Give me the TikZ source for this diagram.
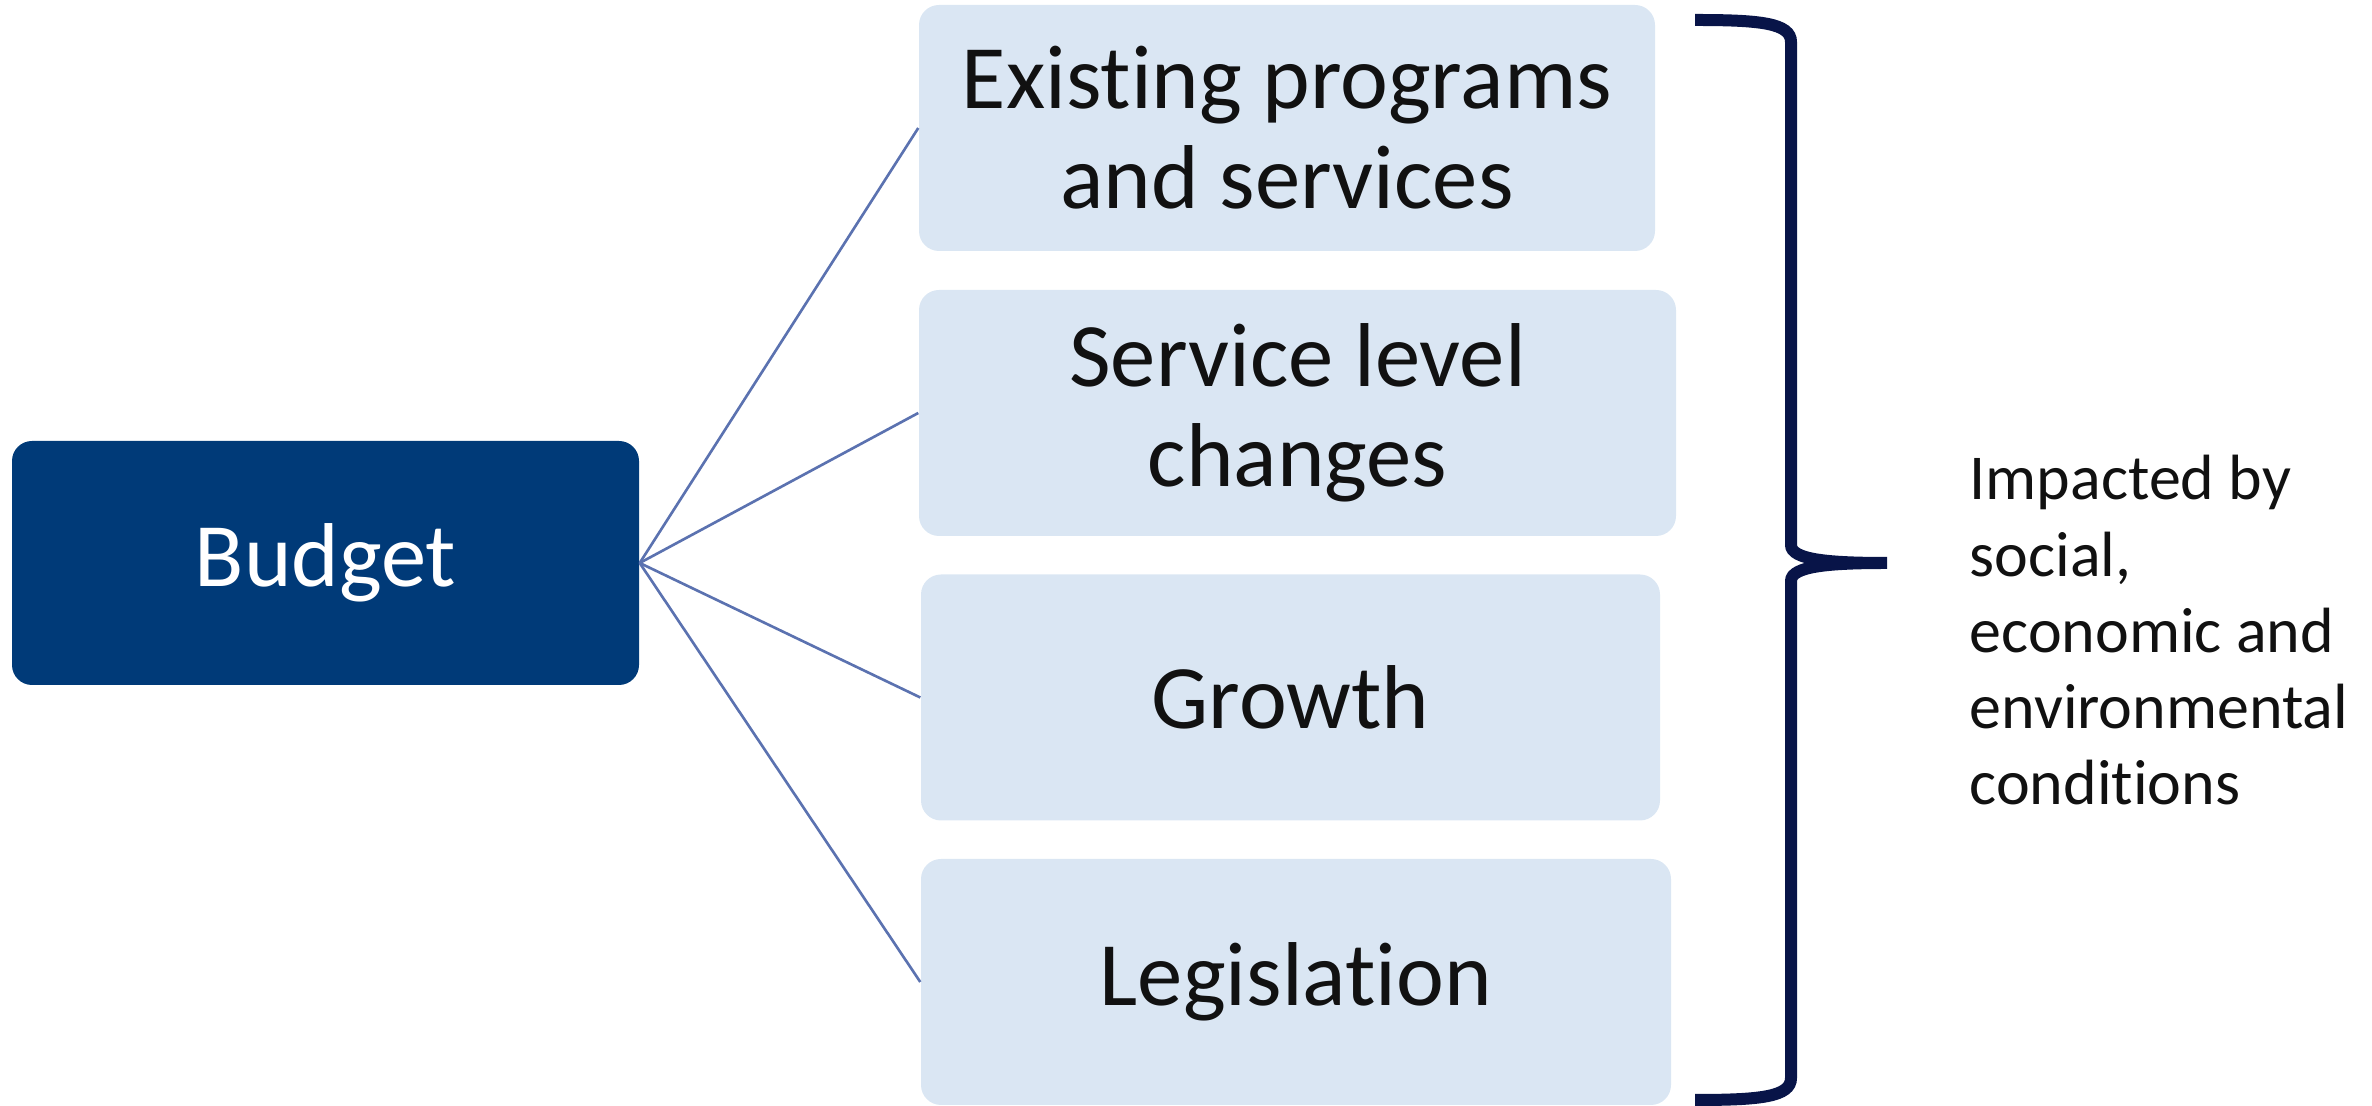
\documentclass[tikz,border=0pt]{standalone}
\usepackage{fontspec}
\setmainfont{Carlito}[Ligatures=NoCommon]
\usepackage{tikz}
\usetikzlibrary{positioning}
\definecolor{budblue}{HTML}{003A78}
\definecolor{itmblue}{HTML}{DAE6F3}
\definecolor{itmtext}{HTML}{111111}
\definecolor{linkblue}{HTML}{5B72B0}
\definecolor{bracenavy}{HTML}{081448}
\tikzset{
  blocknode/.style = {align=center, inner sep=0pt, text centered,
    rounded corners=0.2cm, font=\fontsize{25.8}{28.5}\selectfont},
  bud_n/.style = {blocknode, fill=budblue, text=white,
    minimum width=6.27cm, minimum height=2.44cm},% budget, dark box
  itm_n/.style = {blocknode, fill=itmblue, text=itmtext,
    minimum height=2.46cm},% budget part, light box
  link_e/.style = {draw=linkblue, line width=0.75pt},% budget to part
  note_n/.style = {align=left, inner sep=0pt, text=itmtext,
    font=\fontsize{18.2}{21.7}\selectfont}% side note
}
\begin{document}
\begin{tikzpicture}
\useasboundingbox (0,0) rectangle (23.72,11.06);
\node [bud_n] (budget) at (3.255,5.43) {Budget};
\node [itm_n, minimum width=7.36cm] (existing) at (12.87,9.78)
    {Existing programs\\and services};
\node [itm_n, minimum width=7.57cm] (service) at (12.975,6.93)
    {Service level\\changes};
\node [itm_n, minimum width=7.39cm] (growth) at (12.905,4.085) {Growth};
\node [itm_n, minimum width=7.50cm] (legis) at (12.96,1.24) {Legislation};
\foreach \part in {existing,service,growth,legis}
  \draw [link_e] (budget.east) -- (\part.west);
% the brace
\coordinate (bracetop) at (16.95,10.86);
\coordinate (bracetip) at (18.87,5.43);
\coordinate (bracebot) at (16.95,0.06);
\draw [bracenavy, line width=0.12cm]
  (bracetop) .. controls (17.6,10.86) and (17.91,10.83) .. (17.91,10.64)
  -- (17.91,5.61) .. controls (17.91,5.46) and (18.3,5.43) .. (bracetip)
  .. controls (18.3,5.43) and (17.91,5.40) .. (17.91,5.25)
  -- (17.91,0.28) .. controls (17.91,0.09) and (17.6,0.06) .. (bracebot);
\node [note_n, anchor=west] (note) at (19.69,4.755)
    {Impacted by\\social,\\economic and\\environmental\\conditions};
\end{tikzpicture}
\end{document}
